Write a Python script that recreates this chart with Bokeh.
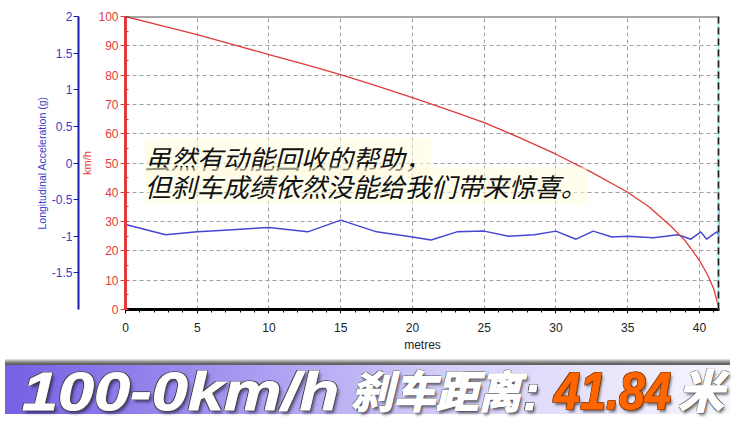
from bokeh.plotting import figure
from bokeh.models import (Range1d, LinearAxis, SingleIntervalTicker, FixedTicker,
                          CustomJSTickFormatter, Span, Label, Div)
from bokeh.layouts import column
from bokeh.embed import file_html
from bokeh.resources import INLINE

# ---------------- data ----------------
dist_speed = [0, 2.5, 5, 7.5, 10, 12.5, 15, 17.5, 20, 22.5, 25, 27.5, 30,
              32.5, 35, 36.5, 38, 39, 40, 40.6, 41.0, 41.3]
speed_kmh = [100, 96.9, 93.8, 90.4, 87.0, 83.7, 80.2, 76.3, 72.3, 68.1, 63.8,
             58.6, 53.0, 46.8, 40.0, 35.0, 28.5, 23.5, 16.8, 11.5, 7.0, 1.5]

dist_acc = [0.0, 2.8, 5.0, 6.6, 10.0, 12.7, 15.0, 17.5, 20.0, 21.3, 23.1, 25.0,
            26.7, 28.5, 30.0, 31.4, 32.6, 33.9, 35.0, 36.8, 38.5, 39.4, 40.1,
            40.5, 41.2, 41.38, 41.38]
acc_g = [-0.84, -0.98, -0.94, -0.92, -0.88, -0.94, -0.78, -0.94, -1.01, -1.05,
         -0.94, -0.93, -1.00, -0.98, -0.93, -1.04, -0.93, -1.01, -1.00, -1.02,
         -0.98, -1.04, -0.94, -1.04, -0.94, -1.00, -0.61]

acc_ticks = [-1.5, -1, -0.5, 0, 0.5, 1, 1.5, 2]
cursor_pos = 41.34

note_lines = ["虽然有动能回收的帮助，", "但刹车成绩依然没能给我们带来惊喜。"]
banner_latin = "100-0km/h"
banner_cjk = "刹车距离"
banner_colon = ":"
banner_value = "41.84"
banner_unit = "米"

# ---------------- colours ----------------
RED = "#e03a3a"
RED_TXT = "#e23b3b"
BLUE = "#4646d2"
BLUE_AX = "#1c1ca8"
BLUE_TXT = "#3a3ac8"
FONT = "Liberation Sans"

# ---------------- main chart ----------------
p = figure(width=725, height=354, x_range=Range1d(0, 41.4), y_range=Range1d(0, 100),
           output_backend="svg", toolbar_location=None,
           min_border_left=125, min_border_right=6, min_border_top=16, min_border_bottom=44)
p.extra_y_ranges = {"acc": Range1d(-2, 2)}
p.outline_line_color = None
p.background_fill_color = "white"
p.border_fill_color = "white"

xt = SingleIntervalTicker(interval=5, num_minor_ticks=5)
yt = SingleIntervalTicker(interval=10, num_minor_ticks=2)
p.xaxis.ticker = xt
p.xgrid.ticker = xt
p.yaxis.ticker = yt
p.ygrid.ticker = yt

p.grid.grid_line_color = "#a0a0a0"
p.grid.grid_line_dash = "4 3"
p.grid.grid_line_width = 1

# x axis
xa = p.xaxis[0]
xa.axis_label = "metres"
xa.axis_label_text_font = FONT
xa.axis_label_text_font_size = "12px"
xa.axis_label_text_font_style = "normal"
xa.axis_label_text_color = "#222222"
xa.axis_label_standoff = 3
xa.axis_line_color = "black"
xa.axis_line_width = 3
xa.major_tick_line_color = "black"
xa.minor_tick_line_color = "black"
xa.major_tick_out = 4
xa.major_tick_in = 0
xa.minor_tick_out = 3
xa.minor_tick_in = 0
xa.major_label_text_font = FONT
xa.major_label_text_font_size = "12px"
xa.major_label_text_color = "#222222"
xa.major_label_standoff = 9

# red speed axis (next to the frame)
ya = p.yaxis[0]
ya.axis_label = "km/h"
ya.axis_label_text_font = FONT
ya.axis_label_text_font_size = "11px"
ya.axis_label_text_font_style = "normal"
ya.axis_label_text_color = RED_TXT
ya.axis_label_standoff = 2
ya.axis_line_color = RED
ya.axis_line_width = 3
ya.major_tick_line_color = RED
ya.minor_tick_line_color = RED
ya.major_tick_out = 5
ya.major_tick_in = 3
ya.minor_tick_out = 0
ya.minor_tick_in = 3
ya.major_label_text_font = FONT
ya.major_label_text_font_size = "12px"
ya.major_label_text_color = RED_TXT
ya.major_label_standoff = 2

# blue acceleration axis (outer)
ba = LinearAxis(y_range_name="acc", ticker=FixedTicker(ticks=acc_ticks),
                formatter=CustomJSTickFormatter(code="return tick.toString()"))
ba.axis_label = "Longitudinal Acceleration (g)"
ba.axis_label_text_font = FONT
ba.axis_label_text_font_size = "10.5px"
ba.axis_label_text_font_style = "normal"
ba.axis_label_text_color = BLUE_TXT
ba.axis_label_standoff = 1
ba.axis_line_color = BLUE_AX
ba.axis_line_width = 2
ba.major_tick_line_color = BLUE_AX
ba.major_tick_out = 5
ba.major_tick_in = 0
ba.minor_tick_out = 0
ba.minor_tick_in = 0
ba.major_label_text_font = FONT
ba.major_label_text_font_size = "12px"
ba.major_label_text_color = BLUE_TXT
ba.major_label_standoff = 1
p.add_layout(ba, "left")

# top border
p.add_layout(Span(location=100, dimension="width", line_color="#505050", line_width=2))

# cursor at the end of the stop
p.add_layout(Span(location=41.4, dimension="height", line_color="#8ef0f0",
                  line_width=4, line_alpha=0.8))
p.add_layout(Span(location=cursor_pos, dimension="height", line_color="#202020",
                  line_width=2, line_dash="7 4"))

# series
p.line(dist_acc, acc_g, y_range_name="acc", line_color=BLUE, line_width=1.5)
p.line(dist_speed, speed_kmh, line_color=RED, line_width=1.3)

# annotation text
note_y = [52.0, 42.2]
for txt, yy in zip(note_lines, note_y):
    p.add_layout(Label(x=1.35, y=yy, text=txt, text_font="Noto Sans CJK SC",
                       text_font_size="26px", text_font_style="italic",
                       text_color="#111111", text_baseline="middle",
                       background_fill_color="#fffbdc", background_fill_alpha=0.55))

# ---------------- banner ----------------
OUTLINE = ("0 0 1px {c},1px 1px 0 {c},-1px -1px 0 {c},1px -1px 0 {c},-1px 1px 0 {c},"
           "2px 3px 3px rgba(0,0,0,0.55)")

def span(txt, left, bottom, size, color, font, sx, stroke, outline):
    return (f'<span style="position:absolute;left:{left}px;bottom:{bottom}px;'
            f'font-family:\'{font}\';font-size:{size}px;line-height:0.8;color:{color};'
            f'white-space:nowrap;transform:scaleX({sx});transform-origin:left bottom;'
            f'-webkit-text-stroke:{stroke};'
            f'text-shadow:{OUTLINE.format(c=outline)};">{txt}</span>')

banner_html = (
    '<div style="position:relative;width:725px;height:55px;overflow:visible;'
    'font-style:italic;font-weight:bold;'
    'background:linear-gradient(to bottom,#ececec 0px,#a8a8a8 2px,#5a5a5a 5px,#666 6px,rgba(255,255,255,0) 6px),'
    'linear-gradient(to right,#7461e4 0%,#a99df2 35%,#d6d0f9 62%,#f7f7fd 100%);">'
    + span(banner_latin, 17, 1, 54, "#ffffff", FONT, 1.2, "0.8px #ffffff", "#444")
    + span(banner_cjk, 346, 7, 44, "#ffffff", "Noto Sans CJK SC", 0.966, "1.6px #ffffff", "#444")
    + span(banner_colon, 518, 1, 50, "#ffffff", FONT, 1.0, "0.8px #ffffff", "#444")
    + span(banner_value, 549, 1, 52, "#ff6600", FONT, 0.9, "0.8px #ff6600", "#7a3300")
    + span(banner_unit, 673, 7, 46, "#ffffff", "Noto Sans CJK SC", 1.0, "1.6px #ffffff", "#444")
    + '</div>'
)
banner = Div(text=banner_html, width=725, height=55, styles={"overflow": "visible"})

layout = column(p, banner, spacing=0)
open("out.html", "w").write(file_html(layout, INLINE))
